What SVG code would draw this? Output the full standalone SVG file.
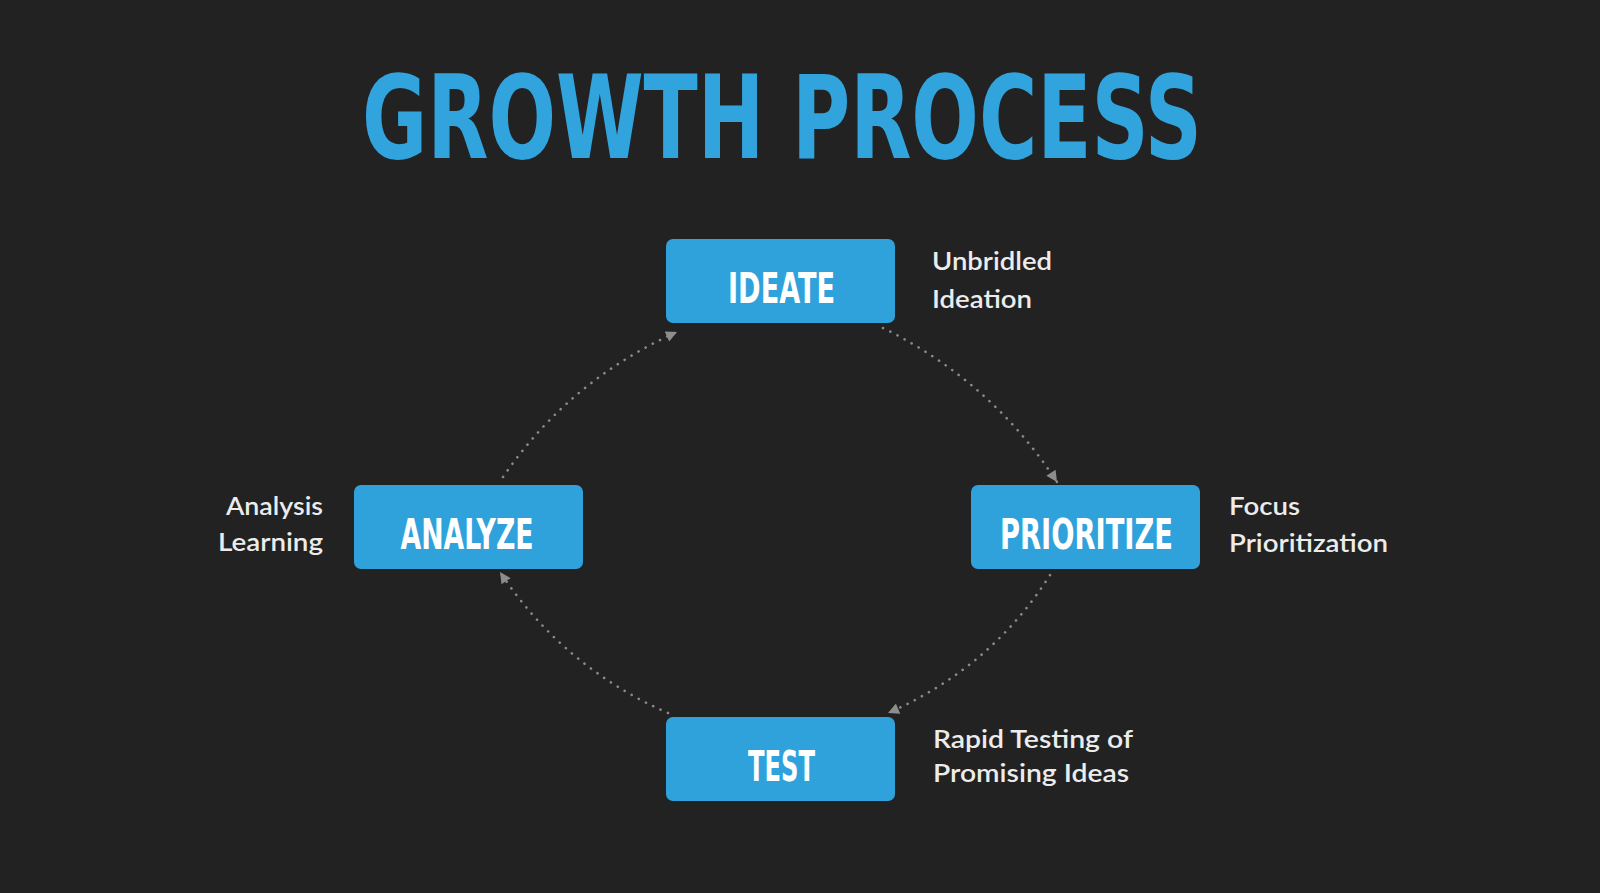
<svg xmlns="http://www.w3.org/2000/svg" width="1600" height="893" viewBox="0 0 1600 893">
  <style>
    .title { font-family: "Liberation Sans Narrow", "DejaVu Sans Condensed", "Liberation Sans", sans-serif; font-weight: bold; font-size: 116px; fill: #31a3dd; }
    .box { fill: #30a2db; }
    .nlabel { font-family: "Liberation Sans Narrow", "DejaVu Sans Condensed", "Liberation Sans", sans-serif; font-weight: bold; font-size: 42px; fill: #ffffff; text-anchor: middle; }
    .side { font-family: Lato, "Noto Sans", "Liberation Sans", sans-serif; font-weight: 600; font-size: 24px; fill: #ececec; }
    .conn { fill: none; stroke: #8a8a8a; stroke-width: 2.6; stroke-linecap: round; stroke-dasharray: 0.1 8; marker-end: url(#arr); }
  </style>
  <defs>
    <marker id="arr" viewBox="0 0 10 10" refX="10" refY="5" markerUnits="userSpaceOnUse" markerWidth="12" markerHeight="11" orient="auto">
      <path d="M0,0 L10,5 L0,10 z" fill="#8d8d8d"/>
    </marker>
  </defs>
  <rect x="0" y="0" width="1600" height="893" fill="#222222"/>
  <text class="title" x="362" y="158" textLength="840" lengthAdjust="spacingAndGlyphs">GROWTH PROCESS</text>

  <g id="connectors">
    <path class="conn" d="M883,328 Q991,381 1057,482"/>
    <path class="conn" d="M1050,575 Q991,668 888,713"/>
    <path class="conn" d="M668,713 Q563,667 500,572"/>
    <path class="conn" d="M503,477 Q569.5,380 677,332"/>
  </g>

  <g id="ideate">
    <rect class="box" x="666" y="239" width="229" height="84" rx="7"/>
    <text class="nlabel" x="781.5" y="303" textLength="107" lengthAdjust="spacingAndGlyphs">IDEATE</text>
    <text class="side" x="932" y="270" textLength="120" lengthAdjust="spacingAndGlyphs">Unbridled</text>
    <text class="side" x="932" y="308" textLength="100" lengthAdjust="spacingAndGlyphs">Ideation</text>
  </g>

  <g id="prioritize">
    <rect class="box" x="971" y="485" width="229" height="84" rx="7"/>
    <text class="nlabel" x="1086.5" y="549" textLength="173" lengthAdjust="spacingAndGlyphs">PRIORITIZE</text>
    <text class="side" x="1229" y="515" textLength="71" lengthAdjust="spacingAndGlyphs">Focus</text>
    <text class="side" x="1229" y="552" textLength="159" lengthAdjust="spacingAndGlyphs">Prioritization</text>
  </g>

  <g id="test">
    <rect class="box" x="666" y="717" width="229" height="84" rx="7"/>
    <text class="nlabel" x="781.5" y="781" textLength="67" lengthAdjust="spacingAndGlyphs">TEST</text>
    <text class="side" x="933" y="748" textLength="200" lengthAdjust="spacingAndGlyphs">Rapid Testing of</text>
    <text class="side" x="933" y="782" textLength="196" lengthAdjust="spacingAndGlyphs">Promising Ideas</text>
  </g>

  <g id="analyze">
    <rect class="box" x="354" y="485" width="229" height="84" rx="7"/>
    <text class="nlabel" x="467" y="549" textLength="133" lengthAdjust="spacingAndGlyphs">ANALYZE</text>
    <text class="side" x="323" y="515" text-anchor="end" textLength="97" lengthAdjust="spacingAndGlyphs">Analysis</text>
    <text class="side" x="323" y="551" text-anchor="end" textLength="105" lengthAdjust="spacingAndGlyphs">Learning</text>
  </g>
</svg>
